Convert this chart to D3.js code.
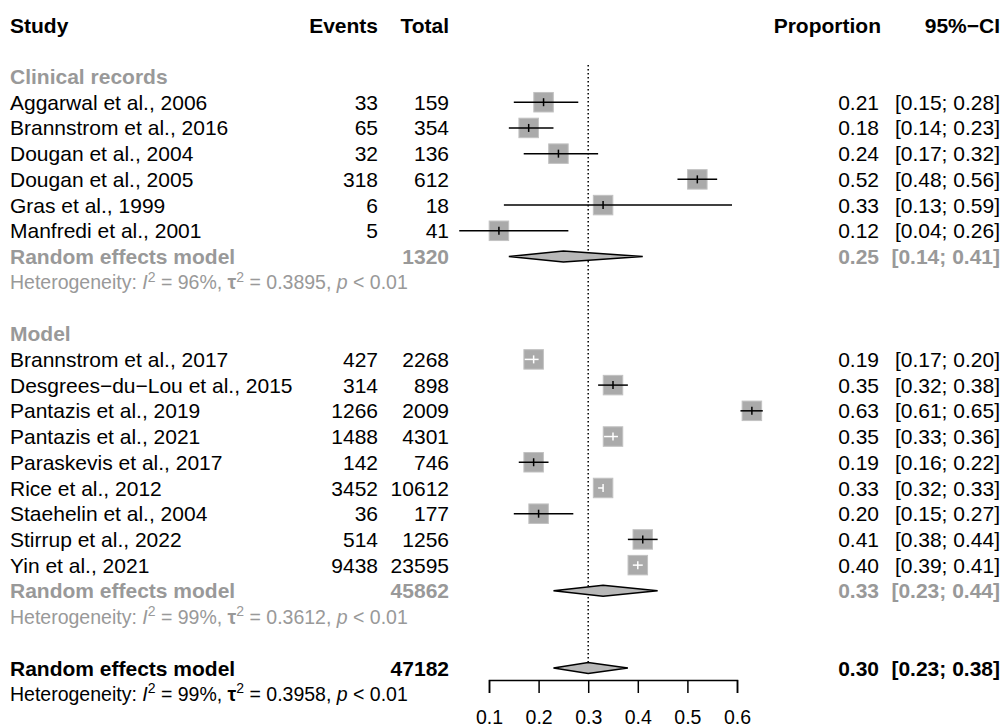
<!DOCTYPE html>
<html>
<head>
<meta charset="utf-8">
<script src="https://cdn.jsdelivr.net/npm/d3@7"></script>
<style>
  body { margin: 0; background: #fff; }
  svg { font-family: "Liberation Sans", Arial, sans-serif; }
</style>
</head>
<body>
<svg id="chart" width="1005" height="727"></svg>
<script>
// clinical records subgroup
const clinStudies = ["Aggarwal et al., 2006", "Brannstrom et al., 2016", "Dougan et al., 2004",
  "Dougan et al., 2005", "Gras et al., 1999", "Manfredi et al., 2001"];
const clinEvents = [33, 65, 32, 318, 6, 5];
const clinTotals = [159, 354, 136, 612, 18, 41];
const clinProp = [0.21, 0.18, 0.24, 0.52, 0.33, 0.12];
const clinLower = [0.15, 0.14, 0.17, 0.48, 0.13, 0.04];
const clinUpper = [0.28, 0.23, 0.32, 0.56, 0.59, 0.26];

// model subgroup
const modelStudies = ["Brannstrom et al., 2017", "Desgrees\u2212du\u2212Lou et al., 2015", "Pantazis et al., 2019",
  "Pantazis et al., 2021", "Paraskevis et al., 2017", "Rice et al., 2012", "Staehelin et al., 2004",
  "Stirrup et al., 2022", "Yin et al., 2021"];
const modelEvents = [427, 314, 1266, 1488, 142, 3452, 36, 514, 9438];
const modelTotals = [2268, 898, 2009, 4301, 746, 10612, 177, 1256, 23595];
const modelProp = [0.19, 0.35, 0.63, 0.35, 0.19, 0.33, 0.20, 0.41, 0.40];
const modelLower = [0.172, 0.32, 0.607, 0.332, 0.16, 0.32, 0.15, 0.38, 0.39];
const modelUpper = [0.20, 0.38, 0.652, 0.36, 0.22, 0.33, 0.27, 0.44, 0.41];

// pooled estimates: clinical, model, overall
const pooledTotals = [1320, 45862, 47182];
const pooledProp = [0.25, 0.33, 0.30];
const pooledLower = [0.14, 0.23, 0.23];
const pooledUpper = [0.41, 0.44, 0.38];
const hetI2 = ["96%", "99%", "99%"];
const hetTau2 = ["0.3895", "0.3612", "0.3958"];

const axisTicks = [0.1, 0.2, 0.3, 0.4, 0.5, 0.6];

const svg = d3.select("#chart");
const grey = "#999999";
const f2 = d3.format(".2f");

const x = d3.scaleLinear().domain([0.1, 0.6]).range([489, 737]);
const y = d3.scaleLinear().domain([2, 25]).range([76.5, 668]);

const colStudy = 10, colEvents = 378, colTotal = 449, colProp = 879, colCI = 1000;
const boxSize = 19.5;

function txt(xp, yp, s, opts) {
  opts = opts || {};
  return svg.append("text")
    .attr("x", xp).attr("y", yp).attr("dy", "0.36em")
    .attr("text-anchor", opts.anchor || "start")
    .attr("font-size", opts.size || 21)
    .attr("font-weight", opts.bold ? "bold" : "normal")
    .attr("fill", opts.color || "#000")
    .text(s);
}

// header
txt(colStudy, y(0), "Study", { bold: true });
txt(colEvents, y(0), "Events", { bold: true, anchor: "end" });
txt(colTotal, y(0), "Total", { bold: true, anchor: "end" });
txt(881, y(0), "Proportion", { bold: true, anchor: "end" });
txt(colCI, y(0), "95%\u2212CI", { bold: true, anchor: "end" });

// reference line at overall estimate
svg.append("line")
  .attr("x1", x(pooledProp[2])).attr("x2", x(pooledProp[2]))
  .attr("y1", 65).attr("y2", y(25) - 6)
  .attr("stroke", "#000").attr("stroke-width", 1.5)
  .attr("stroke-dasharray", "1.5,2.5");

function studyRows(startRow, names, ev, tot, p, lo, hi) {
  names.forEach((name, i) => {
    const r = startRow + i;
    const yc = y(r);
    txt(colStudy, yc, name);
    txt(colEvents, yc, ev[i], { anchor: "end" });
    txt(colTotal, yc, tot[i], { anchor: "end" });
    txt(colProp, yc, f2(p[i]), { anchor: "end" });
    txt(colCI, yc, `[${f2(lo[i])}; ${f2(hi[i])}]`, { anchor: "end" });

    const cx = x(p[i]);
    svg.append("rect")
      .attr("x", cx - boxSize / 2).attr("y", yc - boxSize / 2)
      .attr("width", boxSize).attr("height", boxSize)
      .attr("fill", "#aaaaaa").attr("stroke", "#c2c2c2").attr("stroke-width", 1);

    // CI drawn white when it fits inside the box
    const tol = boxSize / 2 + 1.5;
    const inside = cx - x(lo[i]) <= tol && x(hi[i]) - cx <= tol;
    const lc = inside ? "#fff" : "#000";
    svg.append("line")
      .attr("x1", x(lo[i])).attr("x2", x(hi[i]))
      .attr("y1", yc).attr("y2", yc)
      .attr("stroke", lc).attr("stroke-width", 1.5);
    svg.append("line")
      .attr("x1", cx).attr("x2", cx)
      .attr("y1", yc - 4).attr("y2", yc + 4)
      .attr("stroke", lc).attr("stroke-width", 1.5);
  });
}

function pooledRow(row, k, color) {
  const yc = y(row);
  txt(colStudy, yc, "Random effects model", { bold: true, color: color });
  txt(colTotal, yc, pooledTotals[k], { bold: true, anchor: "end", color: color });
  txt(colProp, yc, f2(pooledProp[k]), { bold: true, anchor: "end", color: color });
  txt(colCI, yc, `[${f2(pooledLower[k])}; ${f2(pooledUpper[k])}]`, { bold: true, anchor: "end", color: color });

  const h = 5.5;
  const pts = [[x(pooledLower[k]), yc], [x(pooledProp[k]), yc - h],
    [x(pooledUpper[k]), yc], [x(pooledProp[k]), yc + h]];
  svg.append("path")
    .attr("d", d3.line()(pts) + "Z")
    .attr("fill", "#b8b8b8").attr("stroke", "#000").attr("stroke-width", 1.5)
    .attr("stroke-linejoin", "miter");

  // heterogeneity line
  const t = svg.append("text")
    .attr("x", colStudy).attr("y", y(row + 1)).attr("dy", "0.36em")
    .attr("font-size", 19.5).attr("fill", color);
  t.append("tspan").text("Heterogeneity: ");
  t.append("tspan").attr("font-style", "italic").text("I");
  t.append("tspan").attr("font-size", 14).attr("dy", "-0.55em").text("2");
  t.append("tspan").attr("dy", "0.4em").text(` = ${hetI2[k]}, `);
  t.append("tspan").attr("font-weight", "bold").text("\u03c4");
  t.append("tspan").attr("font-size", 14).attr("dy", "-0.55em").text("2");
  t.append("tspan").attr("dy", "0.4em").text(` = ${hetTau2[k]}, `);
  t.append("tspan").attr("font-style", "italic").text("p");
  t.append("tspan").text(" < 0.01");
}

// clinical records
txt(colStudy, y(2), "Clinical records", { bold: true, color: grey });
studyRows(3, clinStudies, clinEvents, clinTotals, clinProp, clinLower, clinUpper);
pooledRow(9, 0, grey);

// model
txt(colStudy, y(12), "Model", { bold: true, color: grey });
studyRows(13, modelStudies, modelEvents, modelTotals, modelProp, modelLower, modelUpper);
pooledRow(22, 1, grey);

// overall
pooledRow(25, 2, "#000");

// x axis
const axis = svg.append("g")
  .attr("transform", "translate(0,680)")
  .call(d3.axisBottom(x).tickValues(axisTicks).tickFormat(d3.format(".1f"))
    .tickSize(13).tickPadding(17));
axis.selectAll("path, line").attr("stroke", "#000").attr("stroke-width", 1.5);
axis.selectAll("text")
  .attr("font-size", 19.5)
  .attr("font-family", "\"Liberation Sans\", Arial, sans-serif")
  .attr("fill", "#000");
</script>
</body>
</html>
